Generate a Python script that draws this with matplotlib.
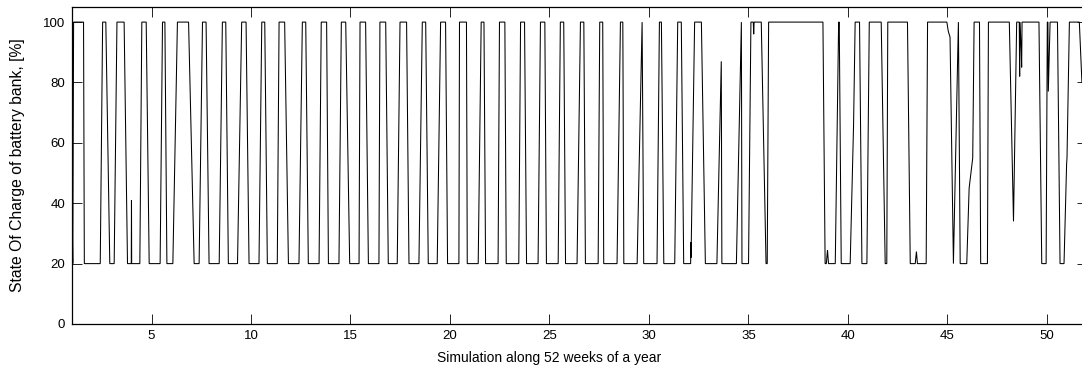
import numpy as np
import matplotlib
matplotlib.use("Agg")
import matplotlib.pyplot as plt

# ---- data: vertices of the SOC trace (week, SOC %) ----
week_a = [1.00, 1.04, 1.08, 1.58, 1.62, 2.42, 2.54, 2.70, 2.90, 3.12, 3.26, 3.62, 3.79,
          3.98, 3.99, 4.00, 4.41, 4.51, 4.73, 4.88, 5.43, 5.55, 5.67, 5.77, 6.07, 6.30,
          6.86, 7.14, 7.39, 7.56, 7.74, 7.89, 8.40, 8.56, 8.73, 8.86, 9.32, 9.53, 9.75, 9.90]
soc_a = [40, 20, 100, 100, 20, 20, 100, 100, 20, 20, 100, 100, 20,
         20, 41, 20, 20, 100, 100, 20, 20, 100, 100, 20, 20, 100,
         100, 20, 20, 100, 100, 20, 20, 100, 100, 20, 20, 100, 100, 20]

week_b = [10.40, 10.54, 10.69, 10.82, 11.32, 11.41, 11.69, 11.88, 12.41, 12.58, 12.75, 12.88,
          13.42, 13.53, 13.80, 13.89, 14.42, 14.54, 14.76, 14.96, 15.43, 15.48, 15.76, 15.90,
          16.43, 16.48, 16.77, 16.90, 17.35, 17.49, 17.82, 17.94, 18.44, 18.61, 18.78, 18.91,
          19.36, 19.53, 19.78, 19.88]
soc_b = [20, 100, 100, 20] * 10

week_c = [20.45, 20.48, 20.83, 20.87, 21.42, 21.57, 21.71, 21.79, 22.42, 22.49, 22.76, 22.83,
          23.46, 23.55, 23.75, 23.85, 24.43, 24.55, 24.77, 24.85, 25.44, 25.55, 25.72, 25.81,
          26.39, 26.56, 26.73, 26.81, 27.45, 27.53, 27.68, 27.73, 28.40, 28.57, 28.69, 28.74,
          29.41, 29.66, 29.74]
soc_c = [20, 100, 100, 20] * 9 + [20, 100, 20]

week_d = [30.41, 30.53, 30.63, 30.75, 31.30, 31.45, 31.63, 31.75, 32.10, 32.11, 32.12, 32.30,
          32.64, 32.84, 33.42, 33.64, 33.67, 34.40, 34.65, 34.68, 35.01, 35.13, 35.25, 35.27,
          35.29, 35.65, 35.89, 35.95, 36.02, 38.75, 38.86]
soc_d = [20, 100, 100, 20, 20, 100, 100, 20, 20, 27, 22, 100,
         100, 20, 20, 87, 20, 20, 100, 20, 20, 100, 100, 96,
         100, 100, 20, 20, 100, 100, 20]

week_e = [38.92, 38.98, 39.03, 39.37, 39.54, 39.57, 39.67, 40.12, 40.29, 40.37, 40.59, 40.71,
          40.96, 41.08, 41.68, 41.88, 41.96, 42.01, 43.00, 43.14, 43.39, 43.45, 43.50, 43.94,
          44.01, 44.98, 45.05, 45.14, 45.31, 45.56, 45.65, 45.98, 46.10, 46.28, 46.35, 46.62,
          46.68, 47.02, 47.07, 48.12, 48.33, 48.49, 48.62, 48.64, 48.66, 48.72, 48.74, 48.76,
          49.61, 49.75, 49.97, 50.03, 50.06, 50.08, 50.17, 50.54, 50.67, 50.87, 51.00, 51.02,
          51.14, 51.64, 51.77]
soc_e = [20, 24.5, 20, 20, 100, 100, 20, 20, 66, 100, 100, 20,
         20, 100, 100, 20, 20, 100, 100, 20, 20, 24, 20, 20,
         100, 100, 97, 95, 20, 100, 20, 20, 45, 55, 100, 100,
         20, 20, 100, 100, 34, 100, 100, 82, 100, 90, 85, 100,
         100, 20, 20, 100, 100, 77, 100, 100, 20, 20, 53, 55,
         100, 100, 80]

x_ticks = [5, 10, 15, 20, 25, 30, 35, 40, 45, 50]
y_ticks = [0, 20, 40, 60, 80, 100]
x_label = "Simulation along 52 weeks of a year"
y_label = "State Of Charge of battery bank, [%]"

weeks = week_a + week_b + week_c + week_d + week_e
soc = soc_a + soc_b + soc_c + soc_d + soc_e

# ---- figure ----
plt.rcParams['font.family'] = ['Liberation Sans', 'DejaVu Sans']
W, H = 1082, 374
fig = plt.figure(figsize=(W / 100, H / 100), dpi=100)
left_px, right_px, top_px, bot_px = 72, 1086.5, 7, 324
ax = fig.add_axes([left_px / W, (H - bot_px) / H, (right_px - left_px) / W, (bot_px - top_px) / H])

ax.plot(weeks, soc, color='black', lw=0.75, solid_joinstyle='miter')

ax.set_xlim(1, 52)
ax.set_ylim(0, 105)
ax.set_xticks(x_ticks)
ax.set_yticks(y_ticks)
ax.tick_params(direction='in', length=7, width=0.6, labelsize=9.5, top=True, right=True,
               colors='black')
ax.tick_params(axis='x', pad=4)
ax.tick_params(axis='y', pad=5)
for s in ax.spines.values():
    s.set_linewidth(0.9)
    s.set_color('black')

ax.set_xlabel(x_label, fontsize=10)
ax.xaxis.set_label_coords((549.5 - left_px) / (right_px - left_px), -0.085)
ax.set_ylabel(y_label, fontsize=11.3)
ax.yaxis.set_label_coords((25 - left_px) / (right_px - left_px), 0.5)

fig.savefig("out.png", dpi=100)
